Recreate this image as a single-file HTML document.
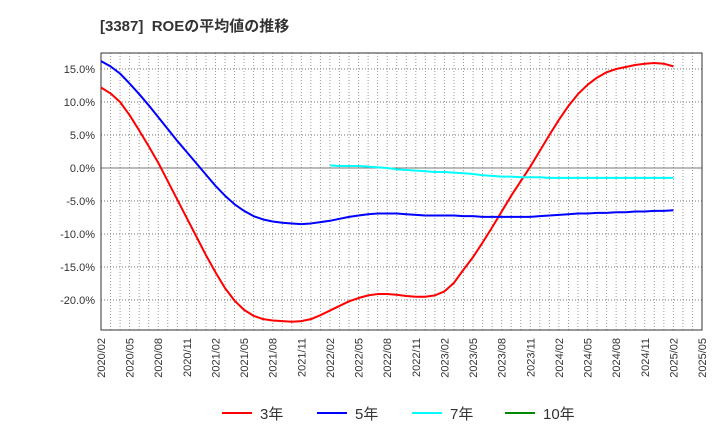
<!DOCTYPE html>
<html><head><meta charset="utf-8"><style>
body{margin:0;background:#fff;font-family:"Liberation Sans","Noto Sans CJK JP",sans-serif;}
svg text{font-family:"Liberation Sans","Noto Sans CJK JP",sans-serif;}
</style></head><body>
<svg id="c" width="720" height="440" xmlns="http://www.w3.org/2000/svg">
<text x="100" y="31" font-size="15" font-weight="bold" fill="#333">[3387]&#160;&#160;ROEの平均値の推移</text>
<g id="grid"></g><g id="axes"></g><g id="series"></g><g id="legend"></g>
</svg>
<script>
const yTicks=[15,10,5,0,-5,-10,-15,-20];
const xLabels=["2020/02","2020/05","2020/08","2020/11","2021/02","2021/05","2021/08","2021/11","2022/02","2022/05","2022/08","2022/11","2023/02","2023/05","2023/08","2023/11","2024/02","2024/05","2024/08","2024/11","2025/02","2025/05"];
const s3=[12.2,11.3,10,8,5.7,3.3,0.8,-2,-4.8,-7.6,-10.4,-13.2,-15.8,-18.2,-20.1,-21.5,-22.4,-22.9,-23.1,-23.2,-23.3,-23.2,-22.9,-22.3,-21.6,-20.9,-20.2,-19.7,-19.3,-19.1,-19.1,-19.2,-19.4,-19.5,-19.5,-19.3,-18.7,-17.4,-15.4,-13.5,-11.3,-9,-6.6,-4.2,-2,0.2,2.6,5,7.3,9.4,11.2,12.6,13.7,14.5,15,15.3,15.6,15.8,15.9,15.8,15.4];
const s5=[16.2,15.4,14.3,12.8,11.2,9.5,7.7,5.9,4.1,2.4,0.7,-1,-2.7,-4.2,-5.5,-6.5,-7.3,-7.8,-8.1,-8.3,-8.4,-8.5,-8.4,-8.2,-8,-7.7,-7.4,-7.2,-7.0,-6.9,-6.9,-6.9,-7.0,-7.1,-7.2,-7.2,-7.2,-7.2,-7.3,-7.3,-7.4,-7.4,-7.4,-7.4,-7.4,-7.4,-7.3,-7.2,-7.1,-7.0,-6.9,-6.9,-6.8,-6.8,-6.7,-6.7,-6.6,-6.6,-6.5,-6.5,-6.4];
const s7start=24;
const s7=[0.4,0.3,0.3,0.3,0.2,0.1,0,-0.2,-0.3,-0.4,-0.5,-0.6,-0.6,-0.7,-0.8,-0.9,-1.1,-1.2,-1.3,-1.3,-1.4,-1.4,-1.4,-1.5,-1.5,-1.5,-1.5,-1.5,-1.5,-1.5,-1.5,-1.5,-1.5,-1.5,-1.5,-1.5,-1.5];
const s10=[];
const NS="http://www.w3.org/2000/svg";
const L=101,R=702,T=53,B=330,months=63;
const xs=i=>L+i*(R-L)/months;
const ys=v=>168-v*6.6;
function mk(tag,attrs,parent){const e=document.createElementNS(NS,tag);for(const k in attrs)e.setAttribute(k,attrs[k]);parent.appendChild(e);return e;}
const grid=document.getElementById('grid'),axes=document.getElementById('axes'),ser=document.getElementById('series'),leg=document.getElementById('legend');
for(let i=1;i<months;i++){const l=mk('line',{x1:xs(i),x2:xs(i),y1:T,y2:B,stroke:'#999','stroke-dasharray':'1,2','stroke-width':1},grid);

}
yTicks.forEach(v=>{const l=mk('line',{x1:L,x2:R,y1:ys(v),y2:ys(v),stroke:'#777','stroke-dasharray':v===0?'none':'1,2','stroke-width':1},grid);


const t=mk('text',{x:L-6,y:ys(v)+4,'text-anchor':'end','font-size':11,fill:'#333'},axes);t.textContent=v.toFixed(1)+'%';

});
const fr=mk('rect',{x:L,y:T,width:R-L,height:B-T,fill:'none',stroke:'#333','stroke-width':1},axes);


xLabels.forEach((s,i)=>{const x=xs(i*3);const t=mk('text',{x:0,y:0,transform:`translate(${x+4},338) rotate(-90)`,'text-anchor':'end','font-size':11,fill:'#333'},axes);t.textContent=s;

});
function line(arr,start,color,name){if(!arr.length)return;const p=mk('polyline',{points:arr.map((v,i)=>xs(start+i)+','+ys(v)).join(' '),fill:'none',stroke:color,'stroke-width':2,'stroke-linejoin':'round'},ser);

}
line(s3,0,'#f00','series-3y');line(s5,0,'#00f','series-5y');line(s7,s7start,'#0ff','series-7y');line(s10,0,'#080','series-10y');
[['3年','#f00',222],['5年','#00f',317],['7年','#0ff',412],['10年','#080',505]].forEach(([n,c,x])=>{const g=mk('g',{},leg);


mk('line',{x1:x,x2:x+30,y1:413,y2:413,stroke:c,'stroke-width':2},g);const t=mk('text',{x:x+38,y:419,'font-size':15,fill:'#333'},g);t.textContent=n;});
</script>
</body></html>
